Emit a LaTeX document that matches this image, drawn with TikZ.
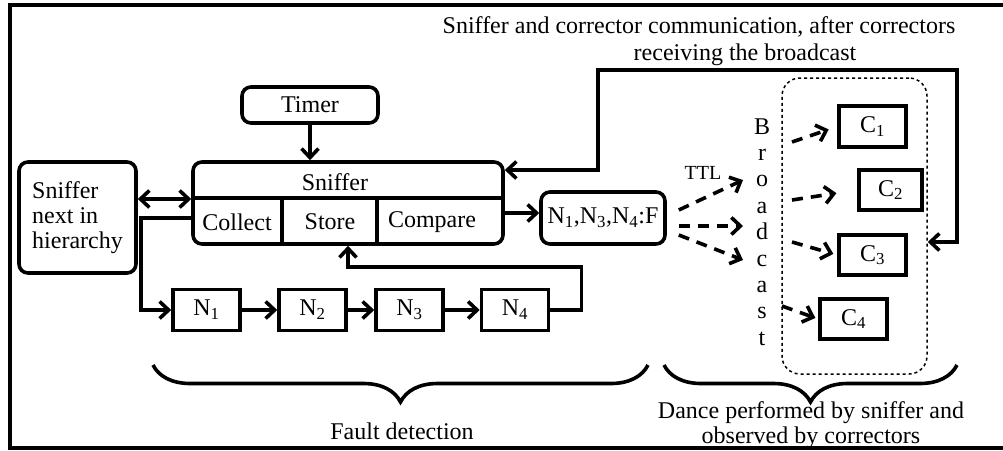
\documentclass[tikz,border=0pt]{standalone}
\usepackage{fontspec}
\setmainfont{Liberation Serif}
\usetikzlibrary{arrows.meta,decorations.pathreplacing}
\begin{document}
\begin{tikzpicture}[x=1pt,y=-1pt,
  every node/.style={font=\fontsize{24}{25}\selectfont, inner sep=0pt},
  box/.style={draw, line width=3.6pt, rounded corners=9pt},
  sbox/.style={draw, line width=3.6pt},
  tip/.style={-{Straight Barb[length=9pt,width=17pt]}},
  conn/.style={line width=3.6pt, tip},
  dconn/.style={line width=3.6pt, {Straight Barb[length=9pt,width=17pt]}-{Straight Barb[length=9pt,width=17pt]}},
  dsh/.style={line width=3.6pt, dash pattern=on 11pt off 8pt, tip},
  brc/.style={line width=3.6pt, decorate, decoration={brace, mirror, amplitude=37pt}},
  lbl/.style={font=\fontsize{24}{25}\selectfont}
]
\useasboundingbox (0,0) rectangle (1003,450);
% frame
\draw[line width=3.6pt] (1003,5) -- (10,5) -- (10,448) -- (1003,448);

% top label
\node[lbl] (top1) at (699,27) {Sniffer and corrector communication, after correctors};
\node[lbl] (top2) at (745,55) {receiving the broadcast};

% timer
\node[box, minimum width=136pt, minimum height=36pt] (timer) at (310,105) {Timer};

% sniffer main
\node[box, minimum width=310pt, minimum height=82pt] (sn) at (348,203) {};
\draw[line width=3.6pt] (193,198) -- (503,198);
\draw[line width=3.6pt] (282,198) -- (282,244);
\draw[line width=3.6pt] (377,198) -- (377,244);
\node (snt) at (335,182) {Sniffer};
\node (collect) at (237,222) {Collect};
\node (store) at (330,222) {Store};
\node (compare) at (432,222) {Compare};

% sniffer next in hierarchy
\node[box, minimum width=117pt, minimum height=111pt, align=left] (next) at (77.5,217.5) {Sniffer\\next in\\hierarchy};

% N chain
\node[sbox, minimum width=67pt, minimum height=41pt] (n1) at (206.5,310) {N\textsubscript{1}};
\node[sbox, minimum width=67pt, minimum height=41pt] (n2) at (312.5,310) {N\textsubscript{2}};
\node[sbox, minimum width=67pt, minimum height=41pt] (n3) at (409.5,310) {N\textsubscript{3}};
\node[sbox, minimum width=67pt, minimum height=41pt] (n4) at (515,310) {N\textsubscript{4}};

% fault list
\node[box, minimum width=124pt, minimum height=52pt] (nf) at (603,218) {N\textsubscript{1},N\textsubscript{3},N\textsubscript{4}:F};

% broadcast letters
\node[align=center, font=\fontsize{24}{26.4}\selectfont] (bc) at (762,232) {B\\r\\o\\a\\d\\c\\a\\s\\t};
\node[font=\fontsize{20}{22}\selectfont] (ttl) at (703,173) {TTL};

% dashed group
\node[draw, dashed, line width=1.5pt, rounded corners=18pt, minimum width=145pt, minimum height=296pt] (grp) at (854.5,226) {};

% correctors
\node[sbox, minimum width=67pt, minimum height=41pt] (c1) at (872.5,126.5) {C\textsubscript{1}};
\node[sbox, minimum width=63pt, minimum height=40pt] (c2) at (890.5,190) {C\textsubscript{2}};
\node[sbox, minimum width=67pt, minimum height=40pt] (c3) at (872.5,255) {C\textsubscript{3}};
\node[sbox, minimum width=67pt, minimum height=40pt] (c4) at (853.5,319) {C\textsubscript{4}};

% connectors
\draw[conn] (timer) -- (timer |- sn.north);
\draw[dconn] ([yshift=18.5pt]next.east) -- ([yshift=4pt]sn.west);
\draw[conn] ([yshift=-15pt]sn.west) -- ++(-50,0) |- (n1.west);
\draw[conn] (n1) -- (n2);
\draw[conn] (n2) -- (n3);
\draw[conn] (n3) -- (n4);
\draw[conn] (n4.east) -- ++(31,0) -- ++(0,-43) -| (sn.south);
\draw[conn] ([yshift=-10pt]sn.east) -- ([yshift=5pt]nf.west);

\coordinate (r1) at (598,70);
\coordinate (r2) at (957,242);
\draw[dconn] ([yshift=33pt]sn.east) -| (r1) -| (r2) -- (grp.east |- r2);

% broadcast dashed arrows
\coordinate (t1) at (743,180);
\coordinate (t2) at (743,226);
\coordinate (t3) at (743,260);
\draw[dsh] ([shift={(12pt,8pt)}]nf.east) -- (t1);
\draw[dsh] ([shift={(12pt,-8pt)}]nf.east) -- (t2);
\draw[dsh] ([shift={(12pt,-17pt)}]nf.east) -- (t3);

\coordinate (b1) at (792,142);
\coordinate (b2) at (792,200);
\coordinate (b3) at (792,242);
\coordinate (b4) at (782,306);
\draw[dsh, shorten >=9pt] (b1) -- (c1.west);
\draw[dsh, shorten >=21pt] (b2) -- (c2.west);
\draw[dsh, shorten >=4pt] (b3) -- (c3.west);
\draw[dsh, shorten >=3pt] (b4) -- (c4.west);

% braces
\draw[brc] (153,365) -- (648,365);
\draw[brc] (664,365) -- (957,365);
\node[lbl] (fd) at (402,431) {Fault detection};
\node[lbl, align=center] (dance) at (811,425.5) {Dance performed by sniffer and\\observed by correctors};
\end{tikzpicture}
\end{document}
